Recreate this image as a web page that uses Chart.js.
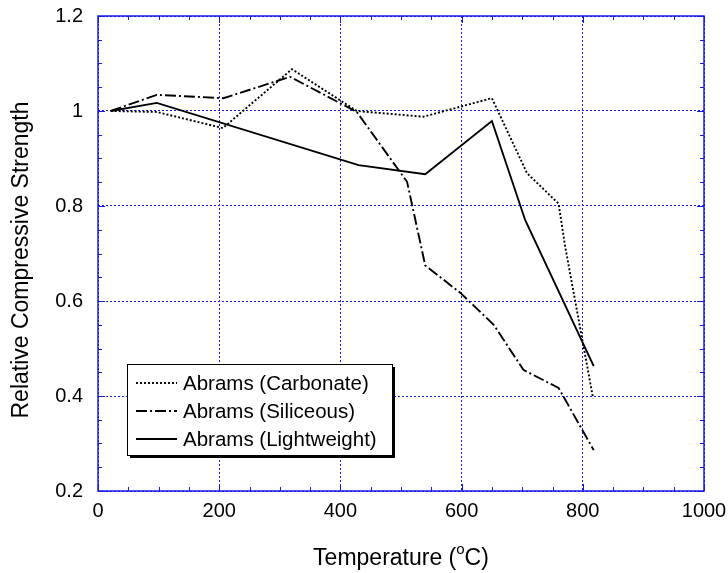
<!DOCTYPE html>
<html>
<head>
<meta charset="utf-8">
<script src="https://cdn.jsdelivr.net/npm/chart.js@4"></script>
<style>
  html, body { margin: 0; padding: 0; background: #fff; }
  #wrap { width: 728px; height: 573px; }
</style>
</head>
<body>
<div id="wrap"><canvas id="chart"></canvas></div>
<script>
const seriesNames = ["Abrams (Carbonate)", "Abrams (Siliceous)", "Abrams (Lightweight)"];

const carbonateT = [21, 97, 206, 320, 427, 537, 650, 708, 760, 771, 817];
const carbonateV = [1.0, 0.998, 0.964, 1.088, 1.0, 0.988, 1.027, 0.869, 0.805, 0.714, 0.395];

const siliceousT = [21, 97, 207, 317, 427, 510, 540, 598, 653, 702, 760, 818];
const siliceousV = [1.0, 1.034, 1.027, 1.072, 0.998, 0.851, 0.675, 0.617, 0.55, 0.455, 0.417, 0.286];

const lightT = [21, 97, 430, 540, 650, 705, 818];
const lightV = [1.0, 1.017, 0.886, 0.867, 0.979, 0.77, 0.463];

const xTicks = [0, 200, 400, 600, 800, 1000];
const yTicks = [0.2, 0.4, 0.6, 0.8, 1, 1.2];

const blue = "#1a1ae6";
const FONT = "'Liberation Sans', Arial, sans-serif";

const dashes = [[2, 2], [11, 3, 2, 3], []];

function pts(xs, ys) { return xs.map((x, i) => ({ x, y: ys[i] })); }

function mkSet(i, xs, ys) {
  return {
    label: seriesNames[i],
    data: pts(xs, ys),
    showLine: true,
    borderColor: "#000",
    borderWidth: 1.9,
    borderDash: dashes[i],
    pointRadius: 0,
    fill: false,
    tension: 0
  };
}

const framePlugin = {
  id: "frame",
  afterDraw(chart) {
    const { ctx, chartArea: a, scales } = chart;
    const xs = scales.x, ys = scales.y;
    ctx.save();
    ctx.strokeStyle = blue;
    ctx.lineWidth = 1.5;
    ctx.setLineDash([]);
    ctx.strokeRect(a.left, a.top, a.right - a.left, a.bottom - a.top);

    // ticks on all four sides, pointing in
    ctx.lineWidth = 1;
    ctx.beginPath();
    for (let v = 0; v <= 1000; v += 50) {
      const px = Math.round(xs.getPixelForValue(v)) + 0.5;
      const len = v % 200 === 0 ? 7 : 4;
      ctx.moveTo(px, a.bottom); ctx.lineTo(px, a.bottom - len);
      ctx.moveTo(px, a.top); ctx.lineTo(px, a.top + len);
    }
    for (let k = 0; k <= 20; k++) {
      const v = 0.2 + k * 0.05;
      const py = Math.round(ys.getPixelForValue(v)) + 0.5;
      const len = k % 4 === 0 ? 7 : 4;
      ctx.moveTo(a.left, py); ctx.lineTo(a.left + len, py);
      ctx.moveTo(a.right, py); ctx.lineTo(a.right - len, py);
    }
    ctx.stroke();

    // axis titles
    ctx.fillStyle = "#000";
    ctx.textBaseline = "alphabetic";
    const p1 = "Temperature (", p2 = "o", p3 = "C)";
    ctx.font = "23px " + FONT;
    const w1 = ctx.measureText(p1).width;
    const w3 = ctx.measureText(p3).width;
    ctx.font = "15px " + FONT;
    const w2 = ctx.measureText(p2).width;
    let tx = (a.left + a.right) / 2 - (w1 + w2 + w3) / 2;
    const ty = 565;
    ctx.textAlign = "left";
    ctx.font = "23px " + FONT;
    ctx.fillText(p1, tx, ty);
    ctx.fillText(p3, tx + w1 + w2, ty);
    ctx.font = "15px " + FONT;
    ctx.fillText(p2, tx + w1, ty - 11);

    ctx.save();
    ctx.font = "23px " + FONT;
    ctx.translate(28, 260);
    ctx.rotate(-Math.PI / 2);
    ctx.textAlign = "center";
    ctx.fillText("Relative Compressive Strength", 0, 0);
    ctx.restore();

    // legend box with shadow
    const bx = 127, by = 364, bw = 265, bh = 91;
    ctx.fillStyle = "#000";
    ctx.fillRect(bx + 3, by + 3, bw, bh);
    ctx.fillStyle = "#fff";
    ctx.fillRect(bx, by, bw, bh);
    ctx.strokeStyle = "#000";
    ctx.lineWidth = 1;
    ctx.strokeRect(bx + 0.5, by + 0.5, bw, bh);
    const rowY = [383, 411, 439];
    chart.data.datasets.forEach((ds, i) => {
      ctx.beginPath();
      ctx.setLineDash(ds.borderDash);
      ctx.lineWidth = 1.9;
      ctx.moveTo(136, rowY[i]);
      ctx.lineTo(177, rowY[i]);
      ctx.stroke();
      ctx.setLineDash([]);
      ctx.fillStyle = "#000";
      ctx.font = "20.5px " + FONT;
      ctx.textAlign = "left";
      ctx.textBaseline = "middle";
      ctx.fillText(ds.label, 183, rowY[i] + 1);
    });
    ctx.restore();
  }
};

new Chart(document.getElementById("chart").getContext("2d"), {
  type: "scatter",
  data: {
    datasets: [
      mkSet(0, carbonateT, carbonateV),
      mkSet(1, siliceousT, siliceousV),
      mkSet(2, lightT, lightV)
    ]
  },
  options: {
    responsive: true,
    maintainAspectRatio: false,
    animation: false,
    layout: { padding: { top: 16, right: 24, left: 0, bottom: 0 } },
    plugins: { legend: { display: false }, tooltip: { enabled: false } },
    scales: {
      x: {
        type: "linear",
        min: 0, max: 1000,
        afterBuildTicks: (s) => { s.ticks = xTicks.map(v => ({ value: v })); },
        afterFit: (s) => { s.height = 82; s.paddingLeft = 0; s.paddingRight = 0; },
        grid: { color: blue, lineWidth: 1, drawTicks: false },
        border: { display: false, dash: [2, 2] },
        ticks: { color: "#000", font: { family: FONT, size: 20 }, padding: 8, maxRotation: 0,
                 callback: (v) => String(v) }
      },
      y: {
        type: "linear",
        min: 0.2, max: 1.2,
        afterBuildTicks: (s) => { s.ticks = yTicks.map(v => ({ value: v })); },
        afterFit: (s) => { s.width = 98; s.paddingTop = 0; s.paddingBottom = 0; },
        grid: { color: blue, lineWidth: 1, drawTicks: false },
        border: { display: false, dash: [2, 2] },
        ticks: { color: "#000", font: { family: FONT, size: 20 }, padding: 15,
                 callback: (v) => String(Math.round(v * 10) / 10) }
      }
    }
  },
  plugins: [framePlugin]
});
</script>
</body>
</html>
